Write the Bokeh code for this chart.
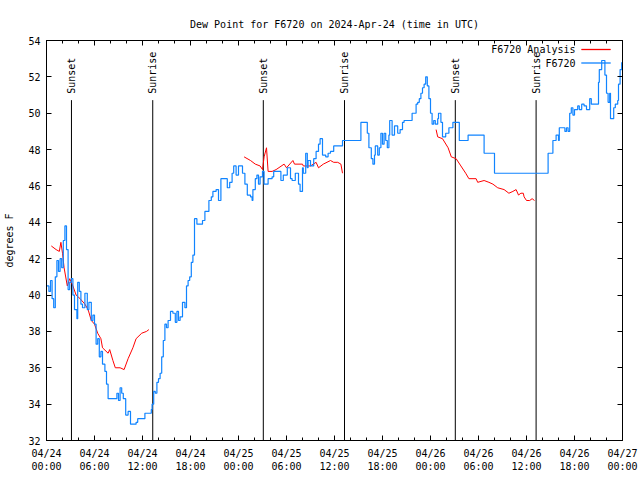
import math
from bokeh.plotting import figure
from bokeh.models import FixedTicker, LinearAxis, Range1d, Label, BoxAnnotation, CustomJSTickFormatter
from bokeh.core.properties import value
from bokeh.embed import file_html
from bokeh.resources import INLINE

nan = float("nan")

# ---- data (hours since 2024-04-24 00:00 UTC) ----
obs_hours = [0.0, 0.3, 0.5, 0.7, 0.9, 1.1, 1.3, 1.5, 1.7, 1.9, 2.1, 2.3, 2.5, 2.7, 2.9, 3.1, 3.3, 3.5, 3.8, 3.9,
             4.1, 4.3, 4.5, 4.8, 5.1, 5.3, 5.6, 5.8, 6.0, 6.2, 6.4, 6.6, 6.8, 7.0, 7.3, 7.5, 7.7, 8.5, 8.8, 9.0,
             9.2, 9.4, 9.6, 9.9, 10.2, 10.5, 11.2, 11.4, 11.9, 12.3, 12.9, 13.1, 13.2, 13.4, 13.6, 13.8, 14.0, 14.2, 14.4, 14.6,
             14.8, 15.0, 15.2, 15.5, 15.8, 16.1, 16.3, 16.5, 16.7, 17.0, 17.3, 17.5, 17.7, 17.9, 18.1, 18.3, 18.5, 18.8, 19.2, 19.5,
             19.8, 20.1, 20.3, 20.6, 20.8, 21.2, 21.5, 21.8, 22.3, 22.6, 22.9, 23.2, 23.4, 23.7, 24.0, 24.3, 24.5, 24.8, 25.1, 25.5,
             25.7, 25.8, 26.1, 26.3, 26.5, 26.7, 27.0, 27.2, 27.6, 27.7, 28.2, 28.4, 29.0, 29.3, 29.6, 30.1, 30.5, 30.7, 31.1, 31.5,
             31.7, 32.0, 32.1, 32.4, 32.6, 32.7, 33.0, 33.4, 33.7, 34.0, 34.2, 34.5, 34.9, 35.2, 35.5, 35.9, 36.8, 37.0, 39.2, 39.3,
             40.0, 40.1, 40.3, 40.6, 40.8, 41.0, 41.1, 41.4, 41.6, 41.8, 42.0, 42.2, 42.4, 42.6, 42.8, 42.9, 43.2, 43.5, 43.9, 44.2,
             44.5, 44.7, 45.5, 45.7, 46.0, 46.2, 46.4, 46.6, 46.8, 47.0, 47.2, 47.4, 47.6, 47.8, 48.0, 48.2, 48.4, 48.6, 48.9, 49.0,
             49.3, 49.5, 49.9, 50.3, 50.8, 51.5, 51.6, 52.6, 52.7, 54.6, 54.7, 55.9, 56.0, 62.6, 62.7, 63.2, 63.3, 63.7, 64.0, 64.1,
             64.8, 65.0, 65.2, 65.4, 65.6, 65.8, 66.0, 66.4, 66.6, 66.9, 67.2, 67.5, 67.9, 68.1, 68.8, 69.0, 69.1, 69.4, 69.6, 69.8,
             70.0, 70.2, 70.4, 70.5, 70.9, 71.1, 71.4, 71.5, 71.7, 71.9]
obs_dewpt = [40.5, 40.2, 40.8, 39.8, 39.3, 41.0, 41.9, 41.3, 42.0, 41.5, 43.0, 43.8, 42.5, 40.3, 40.7, 40.9, 40.0, 39.2, 38.7, 40.7,
             40.2, 39.5, 39.3, 40.1, 39.2, 39.6, 38.6, 38.9, 38.4, 37.3, 37.6, 36.6, 36.9, 36.2, 35.8, 35.1, 34.3, 34.3, 34.6, 34.2,
             34.9, 34.6, 34.3, 33.4, 33.6, 32.9, 33.0, 33.2, 33.2, 33.5, 33.5, 33.7, 34.0, 34.7, 34.6, 35.2, 35.4, 35.7, 36.6, 37.5,
             38.4, 38.2, 38.6, 39.1, 39.0, 38.5, 39.1, 38.6, 38.8, 39.6, 39.3, 40.5, 40.8, 41.0, 41.8, 42.2, 44.2, 43.9, 43.9, 44.1,
             44.6, 44.6, 45.2, 45.4, 45.7, 45.8, 45.2, 46.4, 46.4, 45.9, 46.2, 46.7, 47.1, 46.6, 47.1, 47.1, 46.7, 46.1, 45.5, 45.4,
             45.2, 45.8, 46.4, 46.6, 46.1, 46.5, 46.8, 46.1, 46.1, 46.4, 46.5, 46.8, 46.8, 46.3, 46.6, 47.0, 46.4, 46.3, 46.7, 46.1,
             45.7, 47.0, 46.7, 47.8, 47.0, 47.4, 47.1, 47.5, 47.9, 48.3, 48.6, 47.7, 47.6, 47.8, 47.9, 48.2, 48.2, 48.5, 48.5, 49.5,
             49.5, 48.9, 48.1, 47.5, 47.2, 47.7, 48.2, 47.7, 48.1, 48.9, 48.3, 48.9, 48.5, 48.1, 48.8, 49.6, 48.8, 49.3, 48.9, 49.1,
             49.5, 49.6, 49.6, 50.0, 50.0, 50.5, 50.6, 50.8, 51.1, 51.4, 51.6, 52.0, 51.5, 50.8, 50.0, 49.4, 49.6, 49.4, 49.7, 50.0,
             49.5, 48.7, 48.9, 49.2, 49.5, 49.5, 48.5, 48.5, 48.8, 48.8, 47.8, 47.8, 46.7, 46.7, 47.8, 47.8, 48.5, 48.8, 48.5, 49.2,
             49.0, 49.2, 49.0, 50.0, 50.3, 49.9, 50.2, 50.4, 50.2, 50.5, 50.4, 50.2, 50.8, 50.5, 50.5, 51.7, 52.4, 52.9, 52.9, 52.1,
             51.1, 50.6, 51.1, 49.7, 50.3, 50.5, 50.7, 51.6, 52.4, 52.8]

ana_hours = [0.6, 1.2, 1.6, 1.8, 2.0, 2.2, 2.6, 2.9, 3.3, 3.7, 4.2, 4.8, 5.2, 5.6, 6.0, 6.4, 6.8, 7.0, 7.7, 7.9,
             8.3, 8.6, 9.2, 9.7, 10.2, 10.8, 11.2, 11.9, 12.5, 12.8, 18.0,
             24.7, 25.5, 26.1, 26.7, 27.0, 27.2, 27.5, 27.7, 28.2, 28.7, 29.7, 30.0, 30.8, 31.0, 32.0, 32.1, 33.0, 33.7, 34.0,
             34.6, 35.5, 35.9, 36.4, 36.8, 37.0, 43.0,
             48.7, 48.9, 49.5, 50.2, 50.6, 51.2, 51.8, 52.4, 52.8, 53.7, 53.9, 54.7, 55.3, 55.8, 56.4, 57.2, 57.8, 58.3, 58.7, 59.0,
             59.3, 59.6, 59.7, 60.0, 60.4, 60.7, 61.0]
ana_dewpt = [42.7, 42.5, 42.4, 42.9, 42.3, 41.5, 40.5, 40.9, 40.5, 40.0, 39.8, 39.5, 39.2, 38.6, 38.4, 37.9, 37.6, 37.1, 36.8, 37.0,
             36.4, 36.0, 36.0, 35.9, 36.5, 37.1, 37.6, 37.9, 38.0, 38.1, nan,
             47.6, 47.4, 47.2, 47.1, 46.9, 47.6, 48.1, 46.8, 46.8, 46.9, 47.2, 47.0, 47.4, 47.2, 47.2, 47.1, 47.1, 47.3, 47.0,
             47.2, 47.4, 47.3, 47.3, 47.2, 46.7, nan,
             49.1, 48.7, 48.6, 48.1, 47.6, 47.5, 47.1, 46.7, 46.4, 46.4, 46.2, 46.3, 46.2, 46.1, 45.9, 45.8, 45.6, 45.7, 45.8, 45.5,
             45.6, 45.6, 45.4, 45.2, 45.2, 45.3, 45.2]

sun_hours = [3.12, 13.28, 27.1, 37.25, 51.1, 61.2]
sun_labels = ["Sunset", "Sunrise", "Sunset", "Sunrise", "Sunset", "Sunrise"]

x_tick_hours = [0, 6, 12, 18, 24, 30, 36, 42, 48, 54, 60, 66, 72]
x_tick_labels = ["04/24\n00:00", "04/24\n06:00", "04/24\n12:00", "04/24\n18:00",
                 "04/25\n00:00", "04/25\n06:00", "04/25\n12:00", "04/25\n18:00",
                 "04/26\n00:00", "04/26\n06:00", "04/26\n12:00", "04/26\n18:00",
                 "04/27\n00:00"]
x_minor_hours = [h for h in range(0, 73, 2) if h % 6 != 0]
y_ticks = [32, 34, 36, 38, 40, 42, 44, 46, 48, 50, 52, 54]

FONT = "DejaVu Sans Mono"
RED = "#ff0000"
BLUE = "#1084ff"

p = figure(width=640, height=480, output_backend="svg", toolbar_location=None,
           x_range=Range1d(0, 72), y_range=Range1d(32, 54),
           min_border_left=46, min_border_right=18, min_border_top=40, min_border_bottom=40,
           title="Dew Point for F6720 on 2024-Apr-24 (time in UTC)")
p.title.text_font = FONT
p.title.text_font_size = "10px"
p.title.text_font_style = "normal"
p.title.text_color = "black"
p.title.align = "center"
p.title.standoff = 21
p.grid.visible = False
p.outline_line_color = "black"
p.outline_line_alpha = 1.0
p.background_fill_color = "white"
p.border_fill_color = "white"

xt = FixedTicker(ticks=x_tick_hours, minor_ticks=x_minor_hours)
yt = FixedTicker(ticks=y_ticks, minor_ticks=[])

bottom_axis = p.below[0]
left_axis = p.left[0]
top_axis = LinearAxis(ticker=xt)
right_axis = LinearAxis(ticker=yt)
p.add_layout(top_axis, "above")
p.add_layout(right_axis, "right")
bottom_axis.ticker = xt
left_axis.ticker = yt

for ax in (bottom_axis, left_axis, top_axis, right_axis):
    ax.major_tick_in = 5
    ax.major_tick_out = 0
    ax.minor_tick_in = 3
    ax.minor_tick_out = 0
    ax.axis_line_color = "black"
    ax.major_tick_line_color = "black"
    ax.minor_tick_line_color = "black"
    ax.major_label_text_font = FONT
    ax.major_label_text_font_size = "10px"
    ax.major_label_text_color = "black"

bottom_axis.major_label_overrides = dict(zip(x_tick_hours, x_tick_labels))
bottom_axis.major_label_standoff = 7
left_axis.major_label_standoff = 6
left_axis.axis_label = "degrees F"
left_axis.axis_label_text_font = FONT
left_axis.axis_label_text_font_size = "10px"
left_axis.axis_label_text_font_style = "normal"
left_axis.axis_label_text_color = "black"
left_axis.axis_label_standoff = 10

for ax in (top_axis, right_axis):
    ax.formatter = CustomJSTickFormatter(code="return ''")
    ax.major_label_standoff = 0

# sunrise / sunset markers
SUN_LINE_TOP = 50.72
p.segment(x0=sun_hours, y0=[32] * len(sun_hours), x1=sun_hours, y1=[SUN_LINE_TOP] * len(sun_hours),
          line_color="black", line_width=1)
p.text(x=sun_hours, y=[SUN_LINE_TOP + 0.35] * len(sun_hours), text=sun_labels, angle=math.pi / 2,
       text_align="left", text_baseline="middle", text_font=value(FONT), text_font_size="10px",
       text_color="black")

# series
p.line(ana_hours, ana_dewpt, line_color=RED, line_width=1)
p.step(obs_hours, obs_dewpt, mode="after", line_color=BLUE, line_width=1.2)

# legend (gnuplot style: text then sample)
legend_rows = [("F6720 Analysis", RED), ("F6720", BLUE)]
for i, (lab, col) in enumerate(legend_rows):
    yy = 391 - 13.5 * i
    p.add_layout(Label(x=529, y=yy, x_units="screen", y_units="screen", text=lab,
                       text_align="right", text_baseline="middle", text_font=FONT,
                       text_font_size="10px", text_color="black"))
    p.add_layout(BoxAnnotation(left=535, right=564, bottom=yy - 0.5, top=yy + 0.5,
                               left_units="screen", right_units="screen",
                               bottom_units="screen", top_units="screen",
                               fill_color=col, fill_alpha=1.0, line_color=col, line_width=1))

open("out.html", "w").write(file_html(p, INLINE))
